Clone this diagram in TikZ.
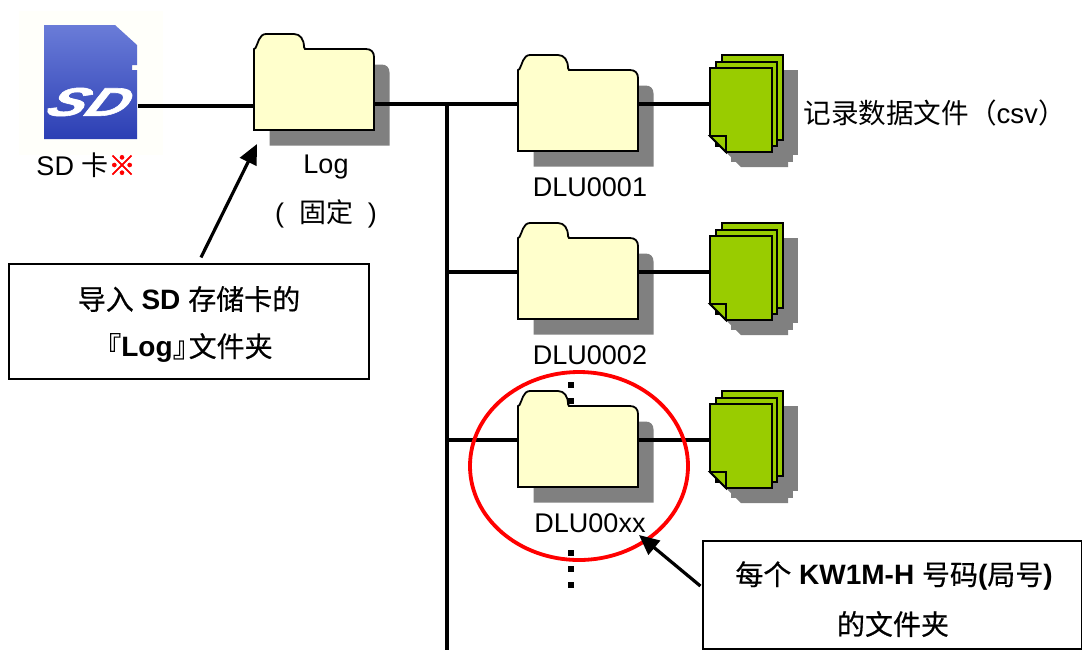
\documentclass[tikz,border=0pt]{standalone}
\usepackage{fontspec}
\setmainfont{Liberation Sans}
\newfontfamily\cjk{Noto Sans CJK SC}
\newfontfamily\cjkheavy[FakeBold=0.5]{Noto Sans CJK SC}
\newfontfamily\cjkmark[FakeBold=2]{Noto Sans CJK SC}
\newfontfamily\logofont[FakeBold=1.5]{Liberation Sans Bold Italic}
\usepackage{tikz}
\usetikzlibrary{positioning, arrows.meta, shapes.geometric}
\definecolor{foldercol}{HTML}{FFFFCC}
\definecolor{filecol}{HTML}{99CC00}
\definecolor{shadowcol}{HTML}{808080}
\definecolor{cardtop}{HTML}{6A7CD8}
\definecolor{cardmid}{HTML}{3C4EC0}
\definecolor{cardbot}{HTML}{2C3FB4}
\newcommand{\folderpath}{(0,96) -- (0,15) -- (1.5,14) .. controls (4,10) and (5,0) .. (12,0) -- (40,0) .. controls (46,0) and (50,5) .. (50,13) -- (51,15) -- (112,15) .. controls (117,15) and (120,18) .. (120,23) -- (120,96) -- cycle}
\tikzset{
  every node/.style={font=\fontsize{13.5}{16}\selectfont, inner sep=0pt},
  folderbox/.style={minimum width=60pt, minimum height=48.5pt},
  filebox/.style={minimum width=31pt, minimum height=48.5pt},
  notebox/.style={draw=black, line width=0.6pt, fill=white},
  notetext/.style={font=\fontsize{14}{16}\selectfont},
  wire/.style={draw=black, line width=2pt},
  pointer/.style={draw=black, line width=1.6pt, -{Triangle[length=10pt,width=9pt]}},
  outline/.style={draw=black, line width=0.9pt},
  foldershadow/.pic={\fill [shadowcol, shift={(15.5,15.5)}] \folderpath;},
  foldershape/.pic={\path [outline, fill=foldercol] \folderpath;},
  fileshadow/.pic={
    \fill [shadowcol] (27,2) rectangle (88,87);
    \fill [shadowcol] (21,9) rectangle (83,94);
    \fill [shadowcol] (15,15) -- (78,15) -- (78,99) -- (31,99) -- (15,83) -- cycle;},
  fileshape/.pic={
    \path [outline, fill=filecol] (12,-13) rectangle (73,72);
    \path [outline, fill=filecol] (6,-6) rectangle (67,78);
    \path [outline, fill=filecol] (0,0) -- (62,0) -- (62,84) -- (16,84) -- (0,68) -- cycle;
    \path [outline, fill=filecol] (0,68) -- (16,68) -- (16,84) -- cycle;},
  dotmark/.style={fill=black, minimum size=3pt},
}
\begin{document}
\begin{tikzpicture}[x=0.5pt, y=-0.5pt]
            \useasboundingbox (0,0) rectangle (1082,650);
            \node [folderbox] (log) at (314,82) {};              % folder nodes
            \node [folderbox] (dluone) at (578.5,103.5) {};
            \node [folderbox] (dlutwo) at (578.5,271.5) {};
            \node [folderbox] (dluxx) at (578.5,439.5) {};
            \node [filebox] (fileone) at (741,103.5) {};         % file stack nodes
            \node [filebox] (filetwo) at (741,271.5) {};
            \node [filebox] (filexx) at (741,439.5) {};
            \node [minimum width=47pt, minimum height=58pt] (sd) at (90.5,82) {};
            \coordinate (logline) at (0,106);                    % height of the card line
            \coordinate (trunktop) at (447,103.5);
            \coordinate (trunkend) at (447,650);
            \pic at (254,34) {foldershadow};                     % shadows go under the lines
            \pic at (518,55) {foldershadow};
            \pic at (518,223) {foldershadow};
            \pic at (518,391) {foldershadow};
            \pic at (710,68) {fileshadow};
            \pic at (710,236) {fileshadow};
            \pic at (710,404) {fileshadow};
            \fill [white!98!yellow] (19,11) rectangle (163,155); % card picture
            \shade [top color=cardtop, middle color=cardmid, bottom color=cardbot]
                (44,25) -- (115,25) -- (137,45) -- (137,65) -- (132,65) -- (132,70) -- (137,70) -- (137,139)
                -- (44,139) -- cycle;
            \node [text=white, font=\fontsize{20}{20}\logofont, xscale=1.45, xslant=0.35, transform shape] (sdlogo) at (91,102) {SD};
            \draw [wire] (sd.east |- logline) -- (log.west |- logline);     % card to log
            \draw [wire] (log.east |- dluone.west) -- (dluone.west);        % log to first folder
            \draw [wire] (trunktop) -- (trunkend);                          % trunk
            \draw [wire] (trunktop |- dlutwo.west) -- (dlutwo.west);
            \draw [wire] (trunktop |- dluxx.west) -- (dluxx.west);
            \draw [wire] (dluone.east) -- (fileone.west);                   % folder to files
            \draw [wire] (dlutwo.east) -- (filetwo.west);
            \draw [wire] (dluxx.east) -- (filexx.west);
            \pic at (254,34) {foldershape};                      % folders and files on top
            \pic at (518,55) {foldershape};
            \pic at (518,223) {foldershape};
            \pic at (518,391) {foldershape};
            \pic at (710,68) {fileshape};
            \pic at (710,236) {fileshape};
            \pic at (710,404) {fileshape};
            \node (sdlabel) at (86,165) {SD {\cjk 卡}\textcolor{red}{\cjkmark ※}};
            \node (loglabel) at (326,167) {Log};
            \node (fixedlabel) at (326,214) {(\hspace{0.55em}{\cjk 固定}\hspace{0.55em})};
            \node (dluonelabel) at (590,187) {DLU0001};
            \node (dlutwolabel) at (590,355) {DLU0002};
            \node (dluxxlabel) at (590,523) {DLU00xx};
            \node [right, font=\fontsize{13.8}{16}\selectfont] (csvlabel) at (803,113) {{\cjk 记录数据文件（}csv{\cjk ）}};
            \node [dotmark] (dotone) at (571,385) {};            % dots between folders
            \node [dotmark] (dottwo) at (571,401) {};
            \node [dotmark] (dotthree) at (571,553) {};
            \node [dotmark] (dotfour) at (571,569) {};
            \node [dotmark] (dotfive) at (571,585) {};
            \node [notebox, minimum width=180pt, minimum height=57.5pt] (notelog) at (189,321.5) {};
            \node [notetext] (notelogtop) at (189,299) {{\cjkheavy 导入} \textbf{SD} {\cjkheavy 存储卡的}};
            \node [notetext] (notelogbot) at (183,348) {{\cjkheavy 『}\textbf{Log}{\cjkheavy 』}\hspace{-6pt}{\cjkheavy 文件夹}};
            \node [notebox, minimum width=189.5pt, minimum height=54pt] (notexx) at (892.5,595) {};
            \node [notetext] (notexxtop) at (894,576) {{\cjkheavy 每个} \textbf{KW1M-H} {\cjkheavy 号码}\textbf{(}{\cjkheavy 局号}\textbf{)}};
            \node [notetext] (notexxbot) at (893,624) {{\cjkheavy 的文件夹}};
            \node [ellipse, draw=red, line width=1.9pt, minimum width=109pt, minimum height=94pt] (ringxx) at (579,466) {};
            \coordinate (logtip) at (257,144);                   % arrow tips
            \coordinate (xxtip) at (639,535);
            \draw [pointer] ([xshift=6pt,yshift=3pt]notelog.north) -- (logtip);
            \draw [pointer] ([xshift=-1pt,yshift=4.5pt]notexx.west) -- (xxtip);
\end{tikzpicture}
\end{document}
